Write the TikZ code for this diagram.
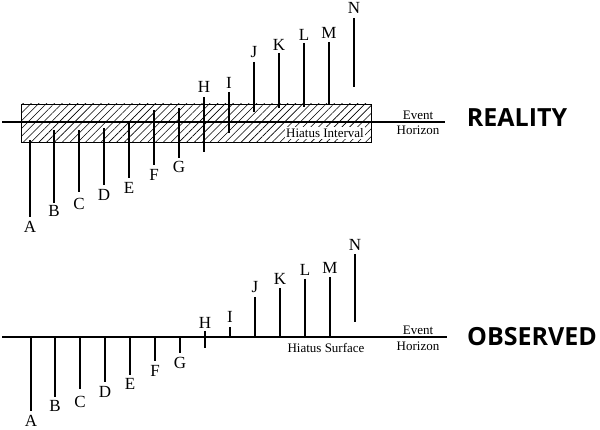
\documentclass[tikz,border=0pt]{standalone}
\usepackage{fontspec}
\setmainfont{Liberation Serif}
\newfontfamily\headfont{Open Sans}
\usetikzlibrary{patterns.meta}

\begin{document}
\begin{tikzpicture}[
    x=1pt, y=-1pt,
    event/.style={line width=1.1pt},
    horizon/.style={line width=1.3pt},
    tag/.style={font=\fontsize{17}{17}\selectfont, inner sep=0},
    note/.style={font=\fontsize{13}{13}\selectfont, inner sep=0},
    panel/.style={font=\headfont\bfseries\fontsize{25}{25}\selectfont, inner sep=0}
]
\useasboundingbox (0,0) rectangle (600,430);

% ============================================
% REALITY (arriba)
% ============================================

% Intervalo del hiato (caja rayada)
\fill[pattern={Lines[angle=45, distance=5.5pt, line width=0.6pt]}] (21,104) rectangle (371,142);
\draw[line width=0.9pt] (21,104) rectangle (371,142);

% Horizonte de eventos
\coordinate (hzTL) at (2,122);
\coordinate (hzTR) at (445,122);
\draw[horizon] (hzTL) -- (hzTR);

% Eventos A-G (bajo el horizonte)
\draw[event] (30,140) -- (30,217);   \node[tag] (tA) at (30,227) {A};
\draw[event] (54,130) -- (54,203);   \node[tag] (tB) at (54,211) {B};
\draw[event] (79,130) -- (79,192);   \node[tag] (tC) at (79,204) {C};
\draw[event] (104,128) -- (104,185); \node[tag] (tD) at (104,195) {D};
\draw[event] (129,122) -- (129,178); \node[tag] (tE) at (129,188) {E};
\draw[event] (154,110) -- (154,165); \node[tag] (tF) at (154,175) {F};
\draw[event] (179,108) -- (179,158); \node[tag] (tG) at (179,167) {G};

% Eventos H-N (sobre el horizonte)
\draw[event] (204,97) -- (204,152);  \node[tag] (tH) at (204,87) {H};
\draw[event] (229,92) -- (229,133);  \node[tag] (tI) at (229,83) {I};
\draw[event] (254,62) -- (254,112);  \node[tag] (tJ) at (254,52) {J};
\draw[event] (279,53) -- (279,108);  \node[tag] (tK) at (279,45) {K};
\draw[event] (304,43) -- (304,107);  \node[tag] (tL) at (304,35) {L};
\draw[event] (329,42) -- (329,105);  \node[tag] (tM) at (329,33) {M};
\draw[event] (354,18) -- (354,87);   \node[tag] (tN) at (354,8) {N};

% Textos
\node[note, fill=white, inner sep=1pt] (interval) at (325,133) {Hiatus Interval};
\node[note] (eventT) at (418,115) {Event};
\node[note] (horizT) at (418,130) {Horizon};
\node[panel] (reality) at (517,118) {REALITY};

% ============================================
% OBSERVED (abajo)
% ============================================

% Horizonte de eventos
\coordinate (hzBL) at (2,337);
\coordinate (hzBR) at (447,337);
\draw[horizon] (hzBL) -- (hzBR);

% Eventos A-G
\draw[event] (31,337) -- (31,411);   \node[tag] (bA) at (31,421) {A};
\draw[event] (55,337) -- (55,397);   \node[tag] (bB) at (55,406) {B};
\draw[event] (80,337) -- (80,389);   \node[tag] (bC) at (80,402) {C};
\draw[event] (105,337) -- (105,382); \node[tag] (bD) at (105,392) {D};
\draw[event] (130,337) -- (130,375); \node[tag] (bE) at (130,384) {E};
\draw[event] (155,337) -- (155,361); \node[tag] (bF) at (155,371) {F};
\draw[event] (180,337) -- (180,353); \node[tag] (bG) at (180,363) {G};

% Eventos H-N
\draw[event] (205,331) -- (205,348); \node[tag] (bH) at (205,323) {H};
\draw[event] (230,327) -- (230,337); \node[tag] (bI) at (230,317) {I};
\draw[event] (255,297) -- (255,337); \node[tag] (bJ) at (255,287) {J};
\draw[event] (280,288) -- (280,337); \node[tag] (bK) at (280,279) {K};
\draw[event] (305,279) -- (305,337); \node[tag] (bL) at (305,270) {L};
\draw[event] (330,277) -- (330,337); \node[tag] (bM) at (330,268) {M};
\draw[event] (355,254) -- (355,322); \node[tag] (bN) at (355,245) {N};

% Textos
\node[note] (surface) at (326,348) {Hiatus Surface};
\node[note] (eventB) at (418,330) {Event};
\node[note] (horizB) at (418,346) {Horizon};
\node[panel] (observed) at (532,337) {OBSERVED};

\end{tikzpicture}
\end{document}
